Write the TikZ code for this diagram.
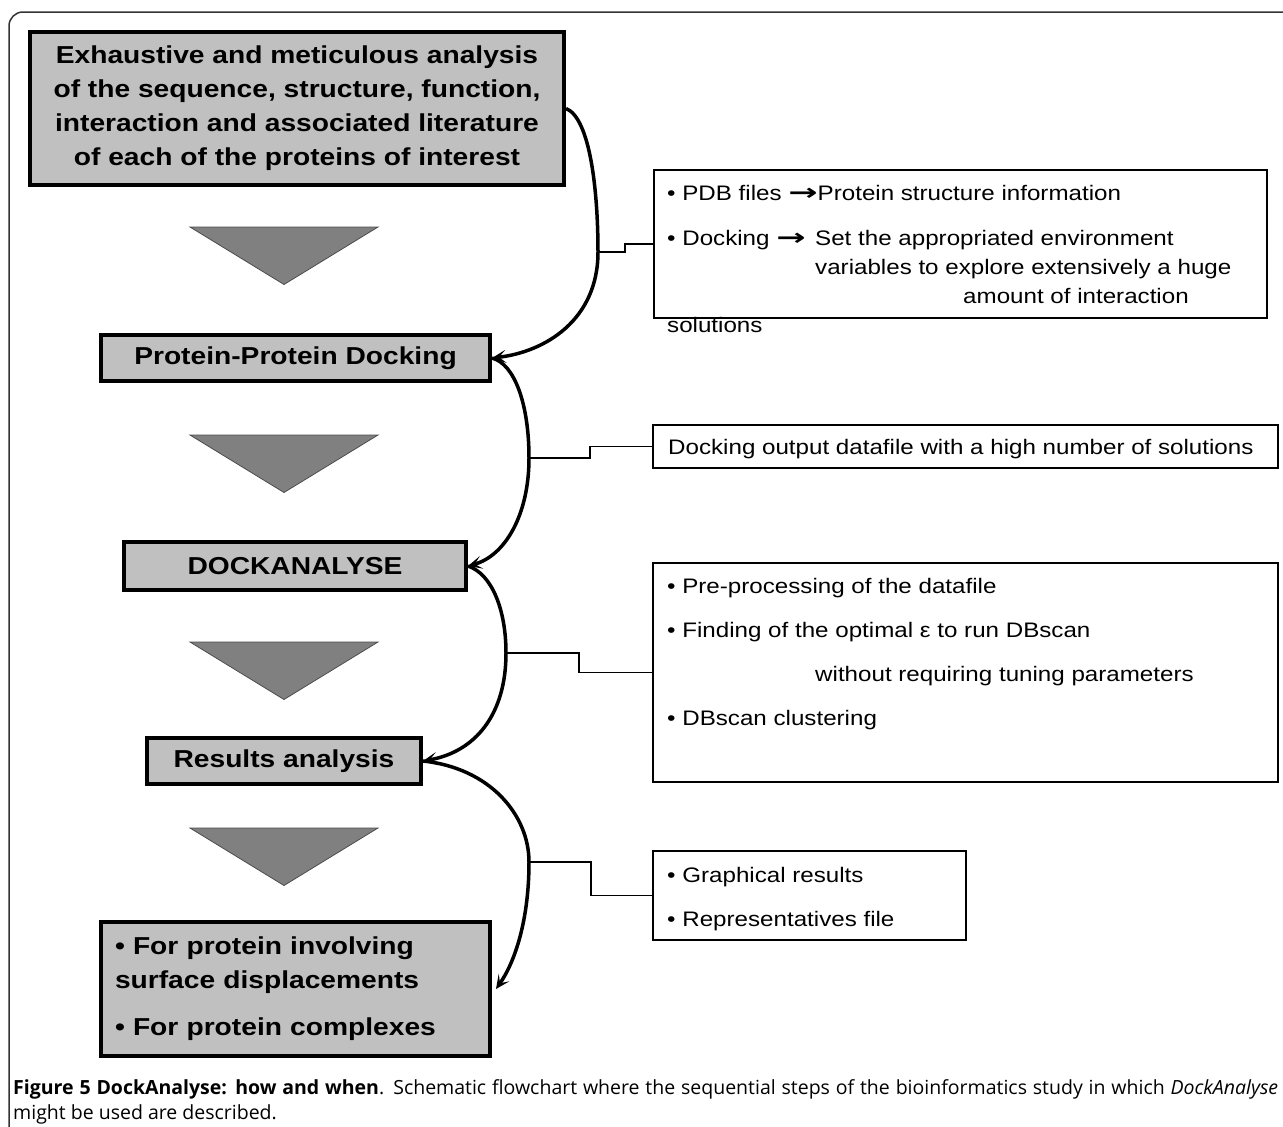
\documentclass[tikz,border=0pt]{standalone}
\usepackage{fontspec}
\usetikzlibrary{arrows.meta}
\newfontfamily\arialx[FakeStretch=1.15]{Liberation Sans}
\newfontfamily\arrowfont{DejaVu Sans}
\newfontfamily\capfont{Open Sans}
\definecolor{boxgray}{HTML}{C0C0C0}
\definecolor{trigray}{HTML}{808080}
\definecolor{framecol}{HTML}{333333}
\newcommand{\rarr}{{\arrowfont\bfseries\fontsize{20}{25}\selectfont\scalebox{1.75}[1.15]{→}}}
\begin{document}
\begin{tikzpicture}[x=1pt,y=-1pt,
  mainbox/.style={draw=black, line width=4pt, fill=boxgray, inner sep=0pt,
    font=\arialx\bfseries\fontsize{24.5}{34}\selectfont},
  infobox/.style={draw=black, line width=1.6pt, inner sep=0pt},
  infotext/.style={anchor=base west, inner sep=0pt, font=\arialx\fontsize{21}{25}\selectfont},
  curve/.style={line width=3.5pt, -{Stealth[length=14pt,width=13pt,inset=7pt]}},
  stepline/.style={line width=1.6pt},
  downtri/.style={fill=trigray, draw=black!70, line width=0.8pt},
  captext/.style={anchor=base west, inner sep=0pt, font=\capfont\fontsize{19.5}{22}\selectfont}]
\useasboundingbox (0,0) rectangle (1283,1127);
% frame
\draw[framecol, line width=1.5pt, rounded corners=14pt] (1283,12) -- (9,12) -- (9,1127);

% main flow boxes
\node[mainbox, minimum width=534pt, minimum height=153pt, align=center] (top) at (297,108.5)
  {Exhaustive and meticulous analysis\\of the sequence, structure, function,\\interaction and associated literature\\of each of the proteins of interest};
\node[mainbox, minimum width=389pt, minimum height=46pt] (dock) at (295.5,358) {Protein-Protein Docking};
\node[mainbox, minimum width=342pt, minimum height=48pt] (da) at (295,566) {DOCKANALYSE};
\node[mainbox, minimum width=274pt, minimum height=46pt] (res) at (284,761) {Results analysis};
\node[mainbox, minimum width=389pt, minimum height=134pt, text width=361pt, align=left] (final) at (295.5,989)
  {\textbullet\ For protein involving\\surface displacements\\[13pt]\textbullet\ For protein complexes};

% triangles
\foreach \ty in {227,435,642,828}{
  \draw[downtri] (190,\ty) -- (378,\ty) -- (284,\ty+57.5) -- cycle;
}

% info boxes
\node[infobox, minimum width=613pt, minimum height=148pt] (ia) at (960.5,244) {};
\node[infobox, minimum width=625pt, minimum height=43pt] (ib) at (965.5,446.5) {};
\node[infobox, minimum width=625pt, minimum height=219pt] (ic) at (965.5,672.5) {};
\node[infobox, minimum width=313pt, minimum height=89pt] (id) at (809.5,895.5) {};

% info texts
\node[infotext] (a1) at (667,200) {• PDB files \rarr Protein structure information};
\node[infotext] (a2) at (667,245) {• Docking \rarr};
\node[infotext] (a2b) at (815,245) {Set the appropriated environment};
\node[infotext] (a3) at (815,274) {variables to explore extensively a huge};
\node[infotext] (a4) at (963,303) {amount of interaction};
\node[infotext] (a5) at (667,332) {solutions};
\node[infotext] (b1) at (668,454) {Docking output datafile with a high number of solutions};
\node[infotext] (c1t) at (667,593) {• Pre-processing of the datafile};
\node[infotext] (c2t) at (667,637) {• Finding of the optimal ε to run DBscan};
\node[infotext] (c3t) at (815,681) {without requiring tuning parameters};
\node[infotext] (c4t) at (667,725) {• DBscan clustering};
\node[infotext] (d1) at (667,882) {• Graphical results};
\node[infotext] (d2) at (667,926) {• Representatives file};

% bulge points of curves
\coordinate (k1) at (598,252);
\coordinate (k2) at (529,458);
\coordinate (k3) at (506,653);
\coordinate (k4) at (529,862);

% curved connectors
\draw[curve] (top.east) .. controls (590,118) and (598,190) .. (k1)
  .. controls (598,320) and (545,352) .. (dock.east);
\draw[curve] (dock.east) .. controls (515,364) and (529,405) .. (k2)
  .. controls (529,515) and (505,556) .. (da.east);
\draw[curve] (da.east) .. controls (492,574) and (506,610) .. (k3)
  .. controls (506,715) and (475,752) .. (res.east);
\draw[curve] (res.east) .. controls (490,768) and (529,815) .. (k4)
  .. controls (529,920) and (515,962) .. ([xshift=4pt]final.east);

% stepped connectors
\draw[stepline] (k1) -- (625,252) |- (ia.west);
\draw[stepline] (k2) -- (590,458) |- (ib.west);
\draw[stepline] (k3) -- (579,653) |- (ic.west);
\draw[stepline] (k4) -- (591,862) |- (id.west);

% caption
\node[captext] (cap1) at (13,1094) {\makebox[1265pt][s]{\textbf{Figure 5 DockAnalyse: how and when}. Schematic flowchart where the sequential steps of the bioinformatics study in which \textit{DockAnalyse}}};
\node[captext] (cap2) at (13,1119) {might be used are described.};
\end{tikzpicture}
\end{document}
